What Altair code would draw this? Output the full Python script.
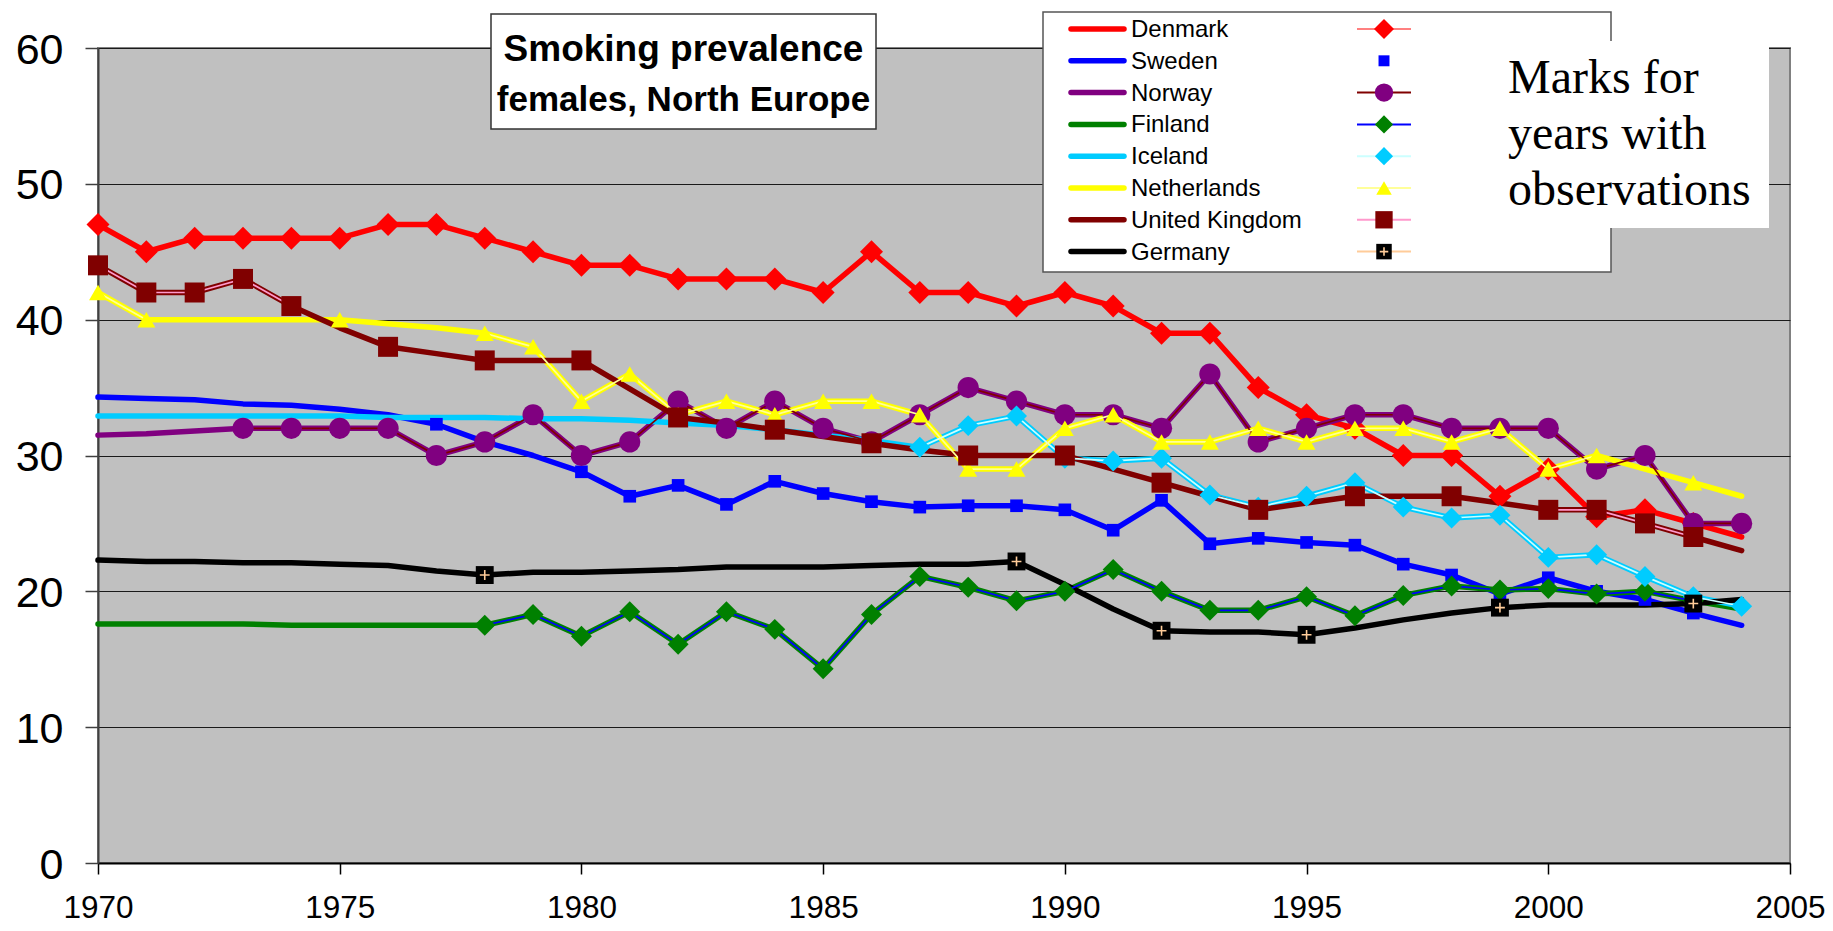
import altair as alt
import pandas as pd

# ---------------- data ----------------
YEARS = list(range(1970, 2005))
COUNTRIES = ["Denmark", "Sweden", "Norway", "Finland", "Iceland",
             "Netherlands", "United Kingdom", "Germany"]

DENMARK = [47, 45, 46, 46, 46, 46, 47, 47, 46, 45,
           44, 44, 43, 43, 43, 42, 45, 42, 42, 41,
           42, 41, 39, 39, 35, 33, 32, 30, 30, 27,
           29, 25.5, 26, 25, 24]
SWEDEN = [34.3, 34.2, 34.1, 33.8, 33.7, 33.4, 33.0, 32.3, 31.0, 30.0,
          28.8, 27.0, 27.8, 26.4, 28.1, 27.2, 26.6, 26.2, 26.3, 26.3,
          26.0, 24.5, 26.7, 23.5, 23.9, 23.6, 23.4, 22.0, 21.2, 19.8,
          21.0, 20.0, 19.4, 18.4, 17.5]
NORWAY = [31.5, 31.6, 31.8, 32, 32, 32, 32, 30, 31, 33,
          30, 31, 34, 32, 34, 32, 31, 33, 35, 34,
          33, 33, 32, 36, 31, 32, 33, 33, 32, 32,
          32, 29, 30, 25, 25]
FINLAND = [17.6, 17.6, 17.6, 17.6, 17.5, 17.5, 17.5, 17.5, 17.5, 18.3,
           16.7, 18.5, 16.1, 18.5, 17.2, 14.3, 18.3, 21.1, 20.3, 19.3,
           20.0, 21.6, 20.0, 18.6, 18.6, 19.6, 18.2, 19.7, 20.4, 20.1,
           20.2, 19.8, 20.0, 19.3, 18.7]
ICELAND = [32.9, 32.9, 32.9, 32.9, 32.9, 32.9, 32.8, 32.8, 32.8, 32.7,
           32.7, 32.6, 32.4, 32.2, 31.9, 31.5, 31.1, 30.6, 32.2, 32.9,
           29.8, 29.6, 29.8, 27.1, 26.2, 27.0, 28.0, 26.2, 25.4, 25.6,
           22.5, 22.7, 21.1, 19.6, 18.9]
NETHERLANDS = [42, 40, 40, 40, 40, 40, 39.7, 39.4, 39, 38,
               34, 36, 33, 34, 33, 34, 34, 33, 29, 29,
               32, 33, 31, 31, 32, 31, 32, 32, 31, 32,
               29, 30, 29, 28, 27]
UNITED_KINGDOM = [44, 42, 42, 43, 41, 39.4, 38, 37.5, 37, 37,
                  37, 34.9, 32.8, 32.4, 31.9, 31.4, 30.9, 30.4, 30, 30,
                  30, 29, 28, 27, 26, 26.5, 27, 27, 27, 26.5,
                  26, 26, 25, 24, 23]
GERMANY = [22.3, 22.2, 22.2, 22.1, 22.1, 22.0, 21.9, 21.5, 21.2, 21.4,
           21.4, 21.5, 21.6, 21.8, 21.8, 21.8, 21.9, 22.0, 22.0, 22.2,
           20.5, 18.7, 17.1, 17.0, 17.0, 16.8, 17.3, 17.9, 18.4, 18.8,
           19.0, 19.0, 19.0, 19.1, 19.4]

# years with observations (marked)
DENMARK_OBS = list(range(1970, 2004))
SWEDEN_OBS = [1977] + list(range(1980, 2004))
NORWAY_OBS = list(range(1973, 2005))
FINLAND_OBS = list(range(1978, 2004))
ICELAND_OBS = list(range(1987, 2005))
NETHERLANDS_OBS = [1970, 1971, 1975] + list(range(1978, 2002)) + [2003]
UNITED_KINGDOM_OBS = [1970, 1971, 1972, 1973, 1974, 1976, 1978, 1980, 1982,
                      1984, 1986, 1988, 1990, 1992, 1994, 1996, 1998,
                      2000, 2001, 2002, 2003]
GERMANY_OBS = [1978, 1989, 1992, 1995, 1999, 2003]

SERIES = {"Denmark": DENMARK, "Sweden": SWEDEN, "Norway": NORWAY,
          "Finland": FINLAND, "Iceland": ICELAND, "Netherlands": NETHERLANDS,
          "United Kingdom": UNITED_KINGDOM, "Germany": GERMANY}
OBS = {"Denmark": DENMARK_OBS, "Sweden": SWEDEN_OBS, "Norway": NORWAY_OBS,
       "Finland": FINLAND_OBS, "Iceland": ICELAND_OBS,
       "Netherlands": NETHERLANDS_OBS, "United Kingdom": UNITED_KINGDOM_OBS,
       "Germany": GERMANY_OBS}

TITLE_LINES = ["Smoking prevalence", "females, North Europe"]
NOTE_LINES = ["Marks for", "years with", "observations"]

# ---------------- styles ----------------
LINE_COLOR = {"Denmark": "#FF0000", "Sweden": "#0000FF", "Norway": "#800080",
              "Finland": "#008000", "Iceland": "#00CCFF", "Netherlands": "#FFFF00",
              "United Kingdom": "#800000", "Germany": "#000000"}
OBS_LINE_COLOR = {"Denmark": "#FF8080", "Sweden": None, "Norway": "#800000",
                  "Finland": "#0000FF", "Iceland": "#CCFFFF", "Netherlands": "#FFFF99",
                  "United Kingdom": "#FF99CC", "Germany": "#FFCC99"}
MARKER_COLOR = {"Denmark": "#FF0000", "Sweden": "#0000FF", "Norway": "#800080",
                "Finland": "#008000", "Iceland": "#00CCFF", "Netherlands": "#FFFF00",
                "United Kingdom": "#800000", "Germany": "#000000"}
MARKER_SHAPE = {"Denmark": "diamond", "Sweden": "square", "Norway": "circle",
                "Finland": "diamond", "Iceland": "diamond", "Netherlands": "triangle-up",
                "United Kingdom": "square", "Germany": "square"}
MARKER_SIZE = {"Denmark": 530, "Sweden": 160, "Norway": 450, "Finland": 440,
               "Iceland": 440, "Netherlands": 320, "United Kingdom": 400, "Germany": 320}
PLUS_PATH = "M-0.55,0L0.55,0M0,-0.55L0,0.55"
THICK = 5.5
THIN = 1.7

FONT = "Liberation Sans"

# ---------------- build tables ----------------
rows = []
for c in COUNTRIES:
    obs = set(OBS[c])
    for y, v in zip(YEARS, SERIES[c]):
        rows.append({"country": c, "year": y, "value": v, "obs": y in obs})
df = pd.DataFrame(rows)

X = alt.X("year:Q",
          scale=alt.Scale(domain=[1970, 2005], nice=False, zero=False),
          axis=alt.Axis(values=list(range(1970, 2006, 5)), format="d", title=None,
                        grid=False, labelFontSize=31.5, labelPadding=18, tickSize=11,
                        labelFlush=False, labelFont=FONT, labelColor="#000000",
                        domainColor="#000000", domainWidth=2, tickColor="#000000",
                        tickWidth=1.5))
Y = alt.Y("value:Q",
          scale=alt.Scale(domain=[0, 60], nice=False, zero=True),
          axis=alt.Axis(values=list(range(0, 61, 10)), title=None, grid=True,
                        gridColor="#1a1a1a", gridWidth=1.2, labelFontSize=43,
                        labelPadding=22, tickSize=13, labelFont=FONT,
                        labelColor="#000000", domainColor="#404040", domainWidth=2,
                        tickColor="#404040", tickWidth=1.5, labelOffset=2))

layers = []
# full (estimated) lines
for c in COUNTRIES:
    d = df[df.country == c]
    layers.append(alt.Chart(d).mark_line(color=LINE_COLOR[c], strokeWidth=THICK,
                                         strokeCap="round", strokeJoin="round")
                  .encode(x=X, y=Y))

# observation series: thin connecting line for consecutive years + markers
for c in COUNTRIES:
    d = df[(df.country == c) & (df.obs)].copy().sort_values("year")
    seg = (d["year"].diff().fillna(1) > 1).cumsum()
    d["seg"] = seg.values
    if OBS_LINE_COLOR[c] and c != "Denmark":
        layers.append(alt.Chart(d).mark_line(color=OBS_LINE_COLOR[c], strokeWidth=THIN)
                      .encode(x=X, y=Y, detail="seg:N"))
    layers.append(alt.Chart(d).mark_point(shape=MARKER_SHAPE[c], size=MARKER_SIZE[c],
                                          filled=True, color=MARKER_COLOR[c], opacity=1,
                                          strokeWidth=0)
                  .encode(x=X, y=Y))
    if c == "Germany":
        layers.append(alt.Chart(d).mark_point(shape=PLUS_PATH, size=MARKER_SIZE[c],
                                              filled=False, color="#FFCC99", opacity=1,
                                              strokeWidth=1.6)
                      .encode(x=X, y=Y))

dummy = pd.DataFrame({"a": [0]})

# ---- title box (positions relative to plot area) ----
layers.append(alt.Chart(dummy).mark_rect(fill="#FFFFFF", stroke="#333333", strokeWidth=1.5)
              .encode(x=alt.value(393), x2=alt.value(778), y=alt.value(-34), y2=alt.value(81)))
TITLE_SIZES = [37, 35]
TITLE_BASE = [13, 63]
for i, t in enumerate(TITLE_LINES):
    layers.append(alt.Chart(dummy).mark_text(text=t, font=FONT, fontWeight="bold",
                                             fontSize=TITLE_SIZES[i], align="center",
                                             baseline="alphabetic", color="#000000")
                  .encode(x=alt.value(585.5), y=alt.value(TITLE_BASE[i])))

# ---- legend box ----
LEG_X0, LEG_X1, LEG_Y0, LEG_Y1 = 945, 1513, -36, 224
ROW0, ROWSTEP = -19, 31.8
layers.append(alt.Chart(dummy).mark_rect(fill="#FFFFFF", stroke="#555555", strokeWidth=1.5)
              .encode(x=alt.value(LEG_X0), x2=alt.value(LEG_X1),
                      y=alt.value(LEG_Y0), y2=alt.value(LEG_Y1)))
for i, c in enumerate(COUNTRIES):
    ly = ROW0 + i * ROWSTEP
    layers.append(alt.Chart(dummy).mark_rule(color=LINE_COLOR[c], strokeWidth=THICK,
                                             strokeCap="round")
                  .encode(x=alt.value(973), x2=alt.value(1026), y=alt.value(ly)))
    layers.append(alt.Chart(dummy).mark_text(text=c, font=FONT, fontSize=24, align="left",
                                             baseline="middle", color="#000000")
                  .encode(x=alt.value(1033), y=alt.value(ly + 1)))
    if OBS_LINE_COLOR[c]:
        layers.append(alt.Chart(dummy).mark_rule(color=OBS_LINE_COLOR[c], strokeWidth=2)
                      .encode(x=alt.value(1259), x2=alt.value(1313), y=alt.value(ly)))
    lsize = MARKER_SIZE[c] * 0.75
    layers.append(alt.Chart(dummy).mark_point(shape=MARKER_SHAPE[c], size=lsize, filled=True,
                                              color=MARKER_COLOR[c], opacity=1, strokeWidth=0)
                  .encode(x=alt.value(1286), y=alt.value(ly)))
    if c == "Germany":
        layers.append(alt.Chart(dummy).mark_point(shape=PLUS_PATH, size=lsize, filled=False,
                                                  color="#FFCC99", opacity=1, strokeWidth=1.6)
                      .encode(x=alt.value(1286), y=alt.value(ly)))

# ---- note box ----
layers.append(alt.Chart(dummy).mark_rect(fill="#FFFFFF", strokeWidth=0)
              .encode(x=alt.value(1401), x2=alt.value(1671), y=alt.value(-7), y2=alt.value(180)))
for i, t in enumerate(NOTE_LINES):
    layers.append(alt.Chart(dummy).mark_text(text=t, font="Liberation Serif", fontSize=48,
                                             align="left", baseline="alphabetic",
                                             color="#000000")
                  .encode(x=alt.value(1410), y=alt.value(45 + i * 56)))

chart = alt.layer(*layers).properties(
    width=1692, height=815,
    autosize=alt.AutoSizeParams(type="none"),
    padding={"left": 90, "top": 40, "right": 35, "bottom": 60},
    background="#FFFFFF",
).configure_view(fill="#C0C0C0", stroke="#808080", strokeWidth=2)

chart.save("out.html", embed_options={"renderer": "svg", "actions": False})
